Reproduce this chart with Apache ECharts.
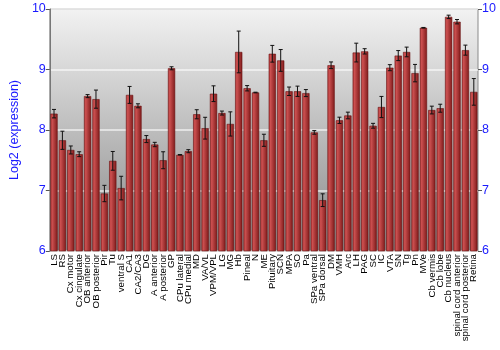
<!DOCTYPE html>
<html><head><meta charset="utf-8">
<script src="https://cdn.jsdelivr.net/npm/echarts@6/dist/echarts.min.js"></script>
<style>html,body{margin:0;padding:0;background:#fff}#c{width:500px;height:350px}</style>
</head><body><div id="c"></div>
<script>
const categories = ["LS","RS","Cx motor","Cx cingulate","OB anterior","OB posterior","Pir","Tu","ventral S","CA1","CA2/CA3","DG","A anterior","A posterior","GP","CPu lateral","CPu medial","MD","VA/VL","VPM/VPL","LG","MG","Hb","Pineal","N","ME","Pituitary","SCN","MPA","SO","Pa","SPa ventral","SPa dorsal","DM","VMH","Arc","LH","PAG","SC","IC","VTA","SN","Tg","Pn","MVe","Cb vermis","Cb lobe","Cb nucleus","spinal cord anterior","spinal cord posterior","Retina"];
const values = [8.27,7.83,7.67,7.60,8.56,8.51,6.95,7.49,7.04,8.58,8.40,7.85,7.76,7.50,9.02,7.59,7.65,8.26,8.03,8.60,8.28,8.10,9.29,8.69,8.62,7.83,9.26,9.15,8.64,8.64,8.61,7.96,6.84,9.07,8.16,8.24,9.28,9.30,8.07,8.38,9.03,9.23,9.29,8.94,9.69,8.33,8.36,9.87,9.79,9.32,8.63];
const errors = [0.07,0.15,0.066,0.04,0.025,0.15,0.135,0.155,0.195,0.14,0.033,0.058,0.036,0.14,0.025,0.005,0.025,0.075,0.18,0.13,0.033,0.2,0.345,0.044,0.005,0.1,0.138,0.18,0.07,0.085,0.058,0.03,0.105,0.055,0.052,0.055,0.155,0.044,0.04,0.175,0.05,0.083,0.08,0.144,0.005,0.064,0.066,0.028,0.036,0.083,0.22];
const yTicks = [6,7,8,9,10];

const chart = echarts.init(document.getElementById('c'), null, {renderer:'canvas'});
const blue = '#1a1aff';
const errData = values.map((v,i)=>[i, v-errors[i], v+errors[i]]);
chart.setOption({
  animation:false,
  grid:{left:35,right:22,top:9,bottom:99,show:true,borderColor:'#8a8a8a',borderWidth:1,
    backgroundColor:new echarts.graphic.LinearGradient(0,0,0,1,[{offset:0,color:'#f2f2f2'},{offset:1,color:'#888888'}])},
  xAxis:{type:'category',data:categories,
    axisLine:{show:false},axisTick:{show:false},
    axisLabel:{rotate:90,interval:0,fontSize:9.7,color:'#000',fontFamily:'Liberation Sans, Arial',margin:3}},
  yAxis:[
    {type:'value',min:yTicks[0],max:yTicks[yTicks.length-1],interval:1,position:'left',
     name:'Log2 (expression)',nameLocation:'middle',nameGap:21,
     nameTextStyle:{color:blue,fontSize:12.5,fontFamily:'Liberation Sans, Arial'},
     axisLine:{show:true,lineStyle:{color:'#777'}},axisTick:{show:true,length:4,lineStyle:{color:'#555'}},
     axisLabel:{color:blue,fontSize:12.5,fontFamily:'Liberation Sans, Arial',margin:4},
     splitLine:{show:true,lineStyle:{color:'rgba(255,255,255,0.75)',width:1.5}}},
    {type:'value',min:yTicks[0],max:yTicks[yTicks.length-1],interval:1,position:'right',
     axisLine:{show:false},axisTick:{show:true,length:4,lineStyle:{color:'#555'}},
     axisLabel:{color:blue,fontSize:12.5,fontFamily:'Liberation Sans, Arial',margin:4},
     splitLine:{show:false}}
  ],
  series:[
    {type:'bar',data:values,barCategoryGap:'14%',
     itemStyle:{borderColor:'#6a1010',borderWidth:0.6,
       color:new echarts.graphic.LinearGradient(0,0,1,0,[{offset:0,color:'#b53a3a'},{offset:0.25,color:'#cc5050'},{offset:1,color:'#7e1a1a'}])}},
    {type:'custom',data:errData,z:10,
     renderItem:function(params,api){
       const x=api.coord([api.value(0),api.value(1)]);
       const y2=api.coord([api.value(0),api.value(2)]);
       const cx=x[0], w=2;
       const st={stroke:'#111',lineWidth:1};
       return {type:'group',children:[
         {type:'line',shape:{x1:cx,y1:x[1],x2:cx,y2:y2[1]},style:st},
         {type:'line',shape:{x1:cx-w,y1:x[1],x2:cx+w,y2:x[1]},style:st},
         {type:'line',shape:{x1:cx-w,y1:y2[1],x2:cx+w,y2:y2[1]},style:st}
       ]};
     }}
  ]
});
</script></body></html>
